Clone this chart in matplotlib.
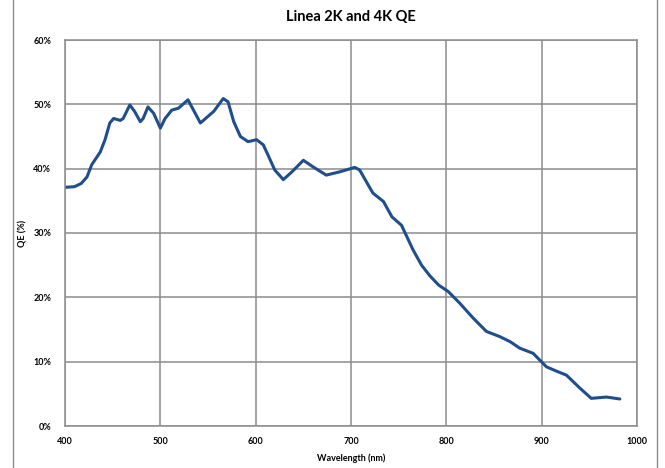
import matplotlib.pyplot as plt
from matplotlib.lines import Line2D
from matplotlib.ticker import FuncFormatter

# wavelength (nm) and QE (%)
wavelength = [400, 410, 417, 423, 428, 437, 442, 447, 451, 458, 461, 468,
              473, 479, 482, 487, 493, 500, 505, 512, 519, 529, 533, 542,
              556, 566, 571, 577, 584, 592, 601, 608, 613, 620, 629, 638,
              650, 660, 674, 688, 704, 709, 716, 723, 734, 743, 753, 765,
              774, 783, 792, 802, 814, 828, 842, 856, 867, 877, 891, 905,
              916, 926, 940, 952, 968, 982]
qe = [37.1, 37.2, 37.7, 38.7, 40.6, 42.6, 44.5, 47.1, 47.8, 47.5, 47.8, 49.9,
      48.9, 47.3, 47.8, 49.6, 48.6, 46.3, 47.8, 49.1, 49.4, 50.7, 49.6, 47.1,
      48.9, 50.9, 50.4, 47.3, 45.0, 44.2, 44.5, 43.7, 42.1, 39.8, 38.3, 39.5,
      41.3, 40.3, 39.0, 39.5, 40.2, 39.8, 38.0, 36.2, 34.9, 32.5, 31.2, 27.4,
      25.0, 23.3, 21.9, 20.9, 19.1, 16.8, 14.7, 13.9, 13.1, 12.1, 11.3, 9.2,
      8.5, 7.9, 5.9, 4.3, 4.5, 4.2]

x_ticks = [400, 500, 600, 700, 800, 900, 1000]
y_ticks = [0, 10, 20, 30, 40, 50, 60]

plt.rcParams['font.family'] = ['Lato', 'DejaVu Sans']

fig = plt.figure(figsize=(6.65, 4.68), dpi=100)
ax = fig.add_axes([65 / 665, 42 / 468, 572 / 665, 386 / 468])

ax.plot(wavelength, qe, color="#1f4e8c", linewidth=2.2,
        solid_capstyle="round", solid_joinstyle="round")

ax.set_xlim(400, 1000)
ax.set_ylim(0, 60)
ax.set_xticks(x_ticks)
ax.set_yticks(y_ticks)
ax.yaxis.set_major_formatter(FuncFormatter(lambda v, p: f"{int(v)}%"))
ax.grid(True, color="#8c8c8c", linewidth=1.1)
ax.set_axisbelow(True)
for s in ax.spines.values():
    s.set_color("#8c8c8c")
    s.set_linewidth(1.1)
ax.tick_params(length=0, labelsize=6.5, pad=8)
ax.tick_params(axis="y", pad=10)
for lbl in ax.get_xticklabels() + ax.get_yticklabels():
    lbl.set_fontweight("bold")

ax.set_title("Linea 2K and 4K QE", fontsize=10.5, fontweight="bold", pad=14)
ax.set_xlabel("Wavelength (nm)", fontsize=6.5, fontweight="bold", labelpad=5)
ax.set_ylabel("QE (%)", fontsize=6.5, fontweight="bold", labelpad=4)

# outer chart frame edges
fig.add_artist(Line2D([13 / 665, 13 / 665], [0, 1], color="#8c8c8c", linewidth=1))
fig.add_artist(Line2D([657 / 665, 657 / 665], [0, 1], color="#8c8c8c", linewidth=1))

fig.savefig("out.png", dpi=100)
